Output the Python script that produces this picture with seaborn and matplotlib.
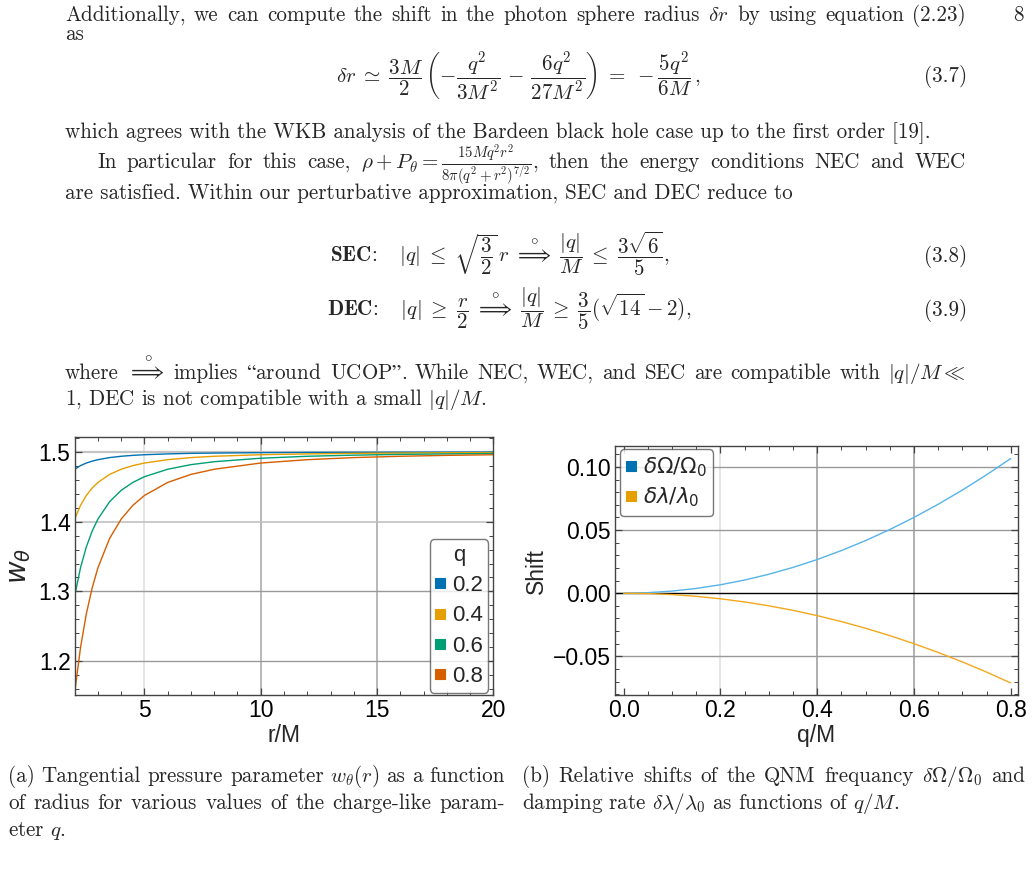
import numpy as np
import pandas as pd
import matplotlib
matplotlib.use("Agg")
import matplotlib.pyplot as plt
from matplotlib.lines import Line2D
from matplotlib.font_manager import FontProperties
from matplotlib.ticker import MultipleLocator
import seaborn as sns

# ---------------------------------------------------------------------------
# Data
# ---------------------------------------------------------------------------
r_vals = [2, 2.25, 2.5, 2.75, 3, 3.5, 4, 4.5, 5, 6, 7, 8, 10, 12, 14, 16, 18, 20]
w_q02 = [1.4752, 1.4804, 1.4841, 1.4868, 1.4889, 1.4919, 1.4938, 1.4951, 1.4960,
         1.4972, 1.4980, 1.4984, 1.4990, 1.4993, 1.4995, 1.4996, 1.4997, 1.4998]
w_q04 = [1.4038, 1.4234, 1.4376, 1.4482, 1.4563, 1.4678, 1.4752, 1.4804, 1.4841,
         1.4889, 1.4919, 1.4938, 1.4960, 1.4972, 1.4980, 1.4984, 1.4988, 1.4990]
w_q06 = [1.2936, 1.3340, 1.3638, 1.3864, 1.4038, 1.4286, 1.4450, 1.4563, 1.4645,
         1.4752, 1.4818, 1.4860, 1.4910, 1.4938, 1.4954, 1.4965, 1.4972, 1.4978]
w_q08 = [1.1552, 1.2194, 1.2678, 1.3049, 1.3340, 1.3759, 1.4038, 1.4234, 1.4376,
         1.4563, 1.4678, 1.4752, 1.4841, 1.4889, 1.4919, 1.4938, 1.4951, 1.4960]
q_labels = ["0.2", "0.4", "0.6", "0.8"]

qm_vals = [0, .05, .1, .15, .2, .25, .3, .35, .4, .45, .5, .55, .6, .65, .7, .75, .8]
d_omega = [0, .00042, .00167, .00375, .00667, .01042, .015, .02042, .02667, .03375,
           .04167, .05042, .06, .07042, .08167, .09375, .10667]
d_lambda = [0, -.00028, -.00111, -.0025, -.00444, -.00694, -.01, -.01361, -.01778,
            -.0225, -.02778, -.03361, -.04, -.04694, -.05444, -.0625, -.07111]

line_cols = ["#0072B2", "#E69F00", "#009E73", "#D55E00"]
right_line_cols = ["#56B4E9", "#F2A81D"]
swatch_cols = ["#0072B2", "#E69F00"]

# ---------------------------------------------------------------------------
# Figure
# ---------------------------------------------------------------------------
sns.set_theme(style="white")
plt.rcParams["font.family"] = ["Liberation Sans", "DejaVu Sans"]
plt.rcParams["mathtext.fontset"] = "cm"
plt.rcParams["axes.unicode_minus"] = True

W, H = 1033, 869
fig = plt.figure(figsize=(W / 100, H / 100), dpi=100)
fig.patch.set_facecolor("white")
renderer = fig.canvas.get_renderer()

serif = ["cmr10", "DejaVu Serif"]
FS = 15.2


def ptext(x, y, s, fs=FS, ha="left", **kw):
    return fig.text(x / W, 1 - y / H, s, fontsize=fs, ha=ha, va="baseline",
                    family=serif, **kw)


def split_words(s):
    # split on spaces, but keep $...$ chunks together
    out, cur = [], ""
    for tok in s.split(" "):
        cur = tok if cur == "" else cur + " " + tok
        if cur.count("$") % 2 == 0:
            out.append(cur)
            cur = ""
    if cur:
        out.append(cur)
    return out


def jtext(x0, x1, y, s, fs=FS):
    # justified line: spread the words from x0 to x1
    words = split_words(s)
    arts = [ptext(0, y, w, fs=fs) for w in words]
    widths = [a.get_window_extent(renderer).width for a in arts]
    gap = (x1 - x0 - sum(widths)) / max(len(words) - 1, 1)
    x = x0
    for a, wd in zip(arts, widths):
        a.set_x(x / W)
        x += wd + gap


# body text
jtext(65, 966, 21, r"Additionally, we can compute the shift in the photon sphere radius $\delta r$ by using equation (2.23)")
ptext(1024, 21, "8", ha="right")
ptext(65, 40, "as")
ptext(518, 82, r"$\delta r \;\simeq\; \dfrac{3M}{2}\,\left(-\dfrac{q^2}{3M^2}\,-\,\dfrac{6q^2}{27M^2}\right) \;=\; -\dfrac{5q^2}{6M}\,,$",
      ha="center")
ptext(967, 82, "(3.7)", ha="right")
ptext(65, 138, "which agrees with the WKB analysis of the Bardeen black hole case up to the first order [19].")
jtext(97, 966, 168, r"In particular for this case, $\rho+P_\theta=\frac{15Mq^2r^2}{8\pi(q^2+r^2)^{7/2}}$, then the energy conditions NEC and WEC")
ptext(65, 199, "are satisfied. Within our perturbative approximation, SEC and DEC reduce to")
ptext(330, 262, r"$\mathbf{SEC\!:}\quad |q| \;\leq\; \sqrt{\dfrac{3}{2}}\,r \;\overset{\circ}{\Longrightarrow}\; \dfrac{|q|}{M} \;\leq\; \dfrac{3\sqrt{6}}{5},$")
ptext(967, 262, "(3.8)", ha="right")
ptext(327, 316, r"$\mathbf{DEC\!:}\quad |q| \;\geq\; \dfrac{r}{2} \;\overset{\circ}{\Longrightarrow}\; \dfrac{|q|}{M} \;\geq\; \dfrac{3}{5}(\sqrt{14}-2),$")
ptext(967, 316, "(3.9)", ha="right")
jtext(65, 966, 379, r"where $\overset{\circ}{\Longrightarrow}$ implies $“$around UCOP$”$. While NEC, WEC, and SEC are compatible with $|q|/M \ll$")
ptext(65, 405, r"1, DEC is not compatible with a small $|q|/M$.")

# captions
jtext(8, 505, 782, r"(a) Tangential pressure parameter $w_\theta(r)$ as a function")
jtext(8, 505, 809, "of radius for various values of the charge-like param-")
ptext(8, 836, r"eter $q$.")
jtext(522, 1025, 782, r"(b) Relative shifts of the QNM frequancy $\delta\Omega/\Omega_0$ and")
ptext(522, 809, r"damping rate $\delta\lambda/\lambda_0$ as functions of $q/M$.")


def style_axes(ax):
    ax.set_facecolor("white")
    for sp in ax.spines.values():
        sp.set_visible(True)
        sp.set_color("#444444")
        sp.set_linewidth(1.0)
    ax.tick_params(which="both", direction="in", top=True, right=True,
                   bottom=True, left=True, colors="#444444",
                   labelcolor="black", labelsize=16.5, pad=3)
    ax.tick_params(which="major", length=5, width=0.9)
    ax.tick_params(which="minor", length=3, width=0.7)
    ax.grid(False)


# ---------------------------------------------------------------------------
# (a) w_theta(r)
# ---------------------------------------------------------------------------
ax1 = fig.add_axes([74.7 / W, 1 - 695.3 / H, 418.6 / W, 258.0 / H])
for xv, c in [(5, "#dcdcdc"), (10, "#a4a4a4"), (15, "#a4a4a4")]:
    ax1.axvline(xv, color=c, lw=1.1, zorder=0)
for yv, c, lw in [(1.5, "#c4c4c4", 1.6), (1.4, "#bcbcbc", 1.1),
                  (1.3, "#9a9a9a", 1.0), (1.2, "#9a9a9a", 1.0)]:
    ax1.axhline(yv, color=c, lw=lw, zorder=0)

df_a = pd.DataFrame({
    "r": r_vals * 4,
    "w": w_q02 + w_q04 + w_q06 + w_q08,
    "q": sum([[lab] * len(r_vals) for lab in q_labels], []),
})
sns.lineplot(data=df_a, x="r", y="w", hue="q", palette=line_cols, lw=1.0,
             legend=False, ax=ax1)
style_axes(ax1)
ax1.set_xlim(2, 20)
ax1.set_ylim(1.151, 1.521)
ax1.xaxis.set_major_locator(MultipleLocator(5))
ax1.xaxis.set_minor_locator(MultipleLocator(1))
ax1.yaxis.set_major_locator(MultipleLocator(0.1))
ax1.yaxis.set_minor_locator(MultipleLocator(0.02))
ax1.yaxis.set_major_formatter(matplotlib.ticker.FormatStrFormatter("%.1f"))
ax1.set_xlabel("r/M", fontsize=16.5, labelpad=1)
ax1.set_ylabel(r"$w_\theta$", fontsize=20, labelpad=4, math_fontfamily="dejavusans")

handles = [Line2D([], [], ls="", marker="s", ms=6.5, mfc=c, mec=c, mew=0.8)
           for c in line_cols]
leg = ax1.legend(handles, q_labels, title="q", loc="lower right",
                 bbox_to_anchor=(0.988, 0.01), borderaxespad=0,
                 fontsize=16, title_fontsize=16,
                 frameon=True, fancybox=True, edgecolor="#555555",
                 handlelength=0.45, handletextpad=0.3, borderpad=0.25,
                 labelspacing=0.42)
leg.get_frame().set_linewidth(1.0)

# ---------------------------------------------------------------------------
# (b) QNM shifts
# ---------------------------------------------------------------------------
ax2 = fig.add_axes([614.7 / W, 1 - 695.3 / H, 403.6 / W, 249.3 / H])
for xv, c in [(0.2, "#dcdcdc"), (0.4, "#9a9a9a"), (0.6, "#9a9a9a")]:
    ax2.axvline(xv, color=c, lw=1.1, zorder=0)
for yv in [0.10, 0.05, -0.05]:
    ax2.axhline(yv, color="#9a9a9a", lw=1.0, zorder=0)
ax2.axhline(0, color="black", lw=1.0, zorder=1)

df_b = pd.DataFrame({
    "q": qm_vals * 2,
    "shift": d_omega + d_lambda,
    "series": ["omega"] * len(qm_vals) + ["lambda"] * len(qm_vals),
})
sns.lineplot(data=df_b, x="q", y="shift", hue="series",
             palette=right_line_cols, lw=1.0, legend=False, ax=ax2)
style_axes(ax2)
ax2.set_xlim(-0.0186, 0.8157)
ax2.set_ylim(-0.0809, 0.1166)
ax2.xaxis.set_major_locator(MultipleLocator(0.2))
ax2.xaxis.set_minor_locator(MultipleLocator(0.05))
ax2.yaxis.set_major_locator(MultipleLocator(0.05))
ax2.yaxis.set_minor_locator(MultipleLocator(0.01))
ax2.xaxis.set_major_formatter(matplotlib.ticker.FormatStrFormatter("%.1f"))
ax2.yaxis.set_major_formatter(matplotlib.ticker.FuncFormatter(
    lambda v, p: ("\u2212%.2f" % abs(v)) if v < -1e-9 else "%.2f" % abs(v)))
ax2.set_xlabel("q/M", fontsize=16.5, labelpad=1)
ax2.set_ylabel("Shift", fontsize=16.5, labelpad=3)

handles2 = [Line2D([], [], ls="", marker="s", ms=6.5, mfc=c, mec=c, mew=0.8)
            for c in swatch_cols]
leg2 = ax2.legend(handles2, [r"$\delta\Omega/\Omega_0$", r"$\delta\lambda/\lambda_0$"],
                  loc="upper left", bbox_to_anchor=(0.013, 0.987),
                  borderaxespad=0,
                  prop=FontProperties(family="Liberation Sans", size=15.5,
                                      math_fontfamily="dejavusans"),
                  frameon=True, fancybox=True, edgecolor="#555555",
                  handlelength=0.45, handletextpad=0.3, borderpad=0.3,
                  labelspacing=0.3)
leg2.get_frame().set_linewidth(1.0)

fig.savefig("out.png", dpi=100, facecolor="white")
